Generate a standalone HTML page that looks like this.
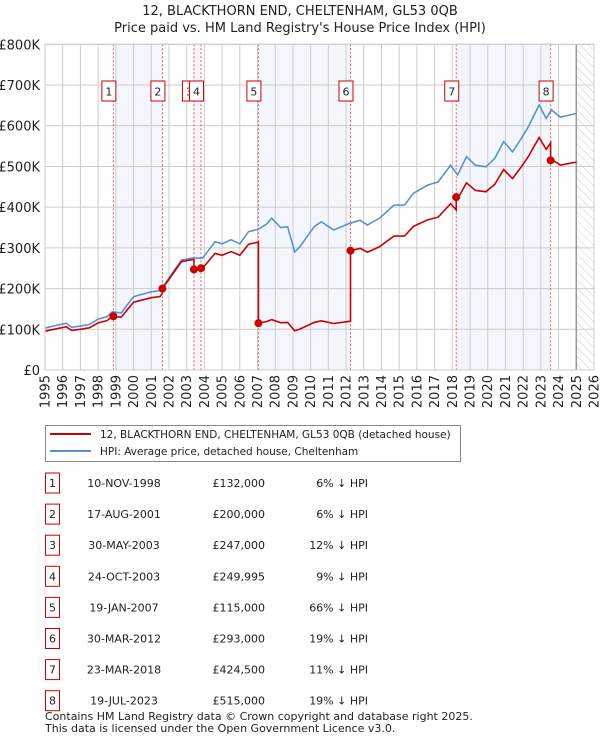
<!DOCTYPE html>
<html><head><meta charset="utf-8">
<style>
body{margin:0;background:#fff;font-family:"DejaVu Sans","Liberation Sans",sans-serif;}
#wrap{position:relative;width:600px;height:740px;overflow:hidden;}
svg text{font-family:"DejaVu Sans","Liberation Sans",sans-serif;}
</style></head>
<body>
<div id="wrap">
<svg id="chart" width="600" height="740"></svg>
</div>
<script>
const hpiYears=[1995,1995.5,1996.2,1996.5,1997,1997.5,1998,1998.5,1998.8,1999.3,2000,2000.5,2001,2001.5,2002,2002.7,2003.3,2003.9,2004.6,2005,2005.5,2006,2006.5,2007,2007.5,2007.8,2008.3,2008.7,2009.1,2009.4,2010.2,2010.6,2011.3,2012.2,2012.8,2013.2,2013.9,2014.7,2015.3,2015.8,2016.6,2017.2,2017.9,2018.3,2018.8,2019.3,2019.9,2020.4,2020.9,2021.4,2021.9,2022.3,2022.9,2023.3,2023.6,2024.1,2024.6,2025.0];
const hpiValues=[103,108,115,105,108,112,125,131,143,140,180,186,192,195,226,270,275,275,315,310,320,310,340,345,358,373,350,352,290,303,352,364,344,360,368,356,373,405,405,434,454,462,503,479,524,503,499,520,561,536,569,598,651,618,639,621,626,630];
const saleDates=[1998.86,2001.63,2003.41,2003.81,2007.05,2012.25,2018.22,2023.55];
const saleLabels=["1","2","3","4","5","6","7","8"];
const salePrices=[132000,200000,247000,249995,115000,293000,424500,515000];
const saleDateText=["10-NOV-1998","17-AUG-2001","30-MAY-2003","24-OCT-2003","19-JAN-2007","30-MAR-2012","23-MAR-2018","19-JUL-2023"];
const salePriceText=["£132,000","£200,000","£247,000","£249,995","£115,000","£293,000","£424,500","£515,000"];
const salePctText=["6% ↓ HPI","6% ↓ HPI","12% ↓ HPI","9% ↓ HPI","66% ↓ HPI","19% ↓ HPI","11% ↓ HPI","19% ↓ HPI"];
const yTicks=[0,100,200,300,400,500,600,700,800];
const yTickLabels=["£0","£100K","£200K","£300K","£400K","£500K","£600K","£700K","£800K"];
const xTicks=[1995,1996,1997,1998,1999,2000,2001,2002,2003,2004,2005,2006,2007,2008,2009,2010,2011,2012,2013,2014,2015,2016,2017,2018,2019,2020,2021,2022,2023,2024,2025,2026];

const L=45,R=594,T=44.3,B=370;
const X=t=>L+(t-1995)/(2026-1995)*(R-L);
const Y=v=>B-v/800*(B-T);
const NS='http://www.w3.org/2000/svg';
const svg=document.getElementById('chart');
function mk(tag,attrs,parent){const e=document.createElementNS(NS,tag);for(const k in attrs)e.setAttribute(k,attrs[k]);(parent||svg).appendChild(e);return e;}
function hpiAt(t){for(let i=0;i<hpiYears.length-1;i++){if(t>=hpiYears[i]&&t<=hpiYears[i+1]){const f=(t-hpiYears[i])/(hpiYears[i+1]-hpiYears[i]);return hpiValues[i]+f*(hpiValues[i+1]-hpiValues[i]);}}return hpiValues[hpiValues.length-1];}

// title
let t1=mk('text',{x:300,y:15,'text-anchor':'middle','font-size':13,fill:'#222'});t1.textContent='12, BLACKTHORN END, CHELTENHAM, GL53 0QB';

let t2=mk('text',{x:300,y:32,'text-anchor':'middle','font-size':13,fill:'#222'});t2.textContent="Price paid vs. HM Land Registry's House Price Index (HPI)";


// shaded bands
for(let i=0;i<saleDates.length;i+=2){
  const b=mk('rect',{x:X(saleDates[i]),y:T,width:X(saleDates[i+1])-X(saleDates[i]),height:B-T,fill:'#eef3fc',opacity:0.7});
  
}
// hatch
const defs=mk('defs',{});
const pat=mk('pattern',{id:'hatch',width:6,height:6,patternUnits:'userSpaceOnUse',patternTransform:'rotate(-45)'},defs);
mk('line',{x1:0,y1:0,x2:0,y2:6,stroke:'#ccc','stroke-width':1},pat);
const hz=mk('rect',{x:X(2025),y:T,width:R-X(2025),height:B-T,fill:'url(#hatch)'});


// grid
yTicks.forEach((v,i)=>{
  const g=mk('line',{x1:L,x2:R,y1:Y(v),y2:Y(v),stroke:'#ccc','stroke-width':1});
  
  const tx=mk('text',{x:40,y:Y(v)+5,'text-anchor':'end','font-size':13,fill:'#222'});tx.textContent=yTickLabels[i];
  
});
xTicks.forEach(t=>{
  const g=mk('line',{x1:X(t),x2:X(t),y1:T,y2:B,stroke:'#ccc','stroke-width':1});
  
  const tx=mk('text',{x:0,y:0,'text-anchor':'end','font-size':13,fill:'#222',transform:`translate(${X(t)+4.5},375) rotate(-90)`});tx.textContent=t;
  
});
const ed=mk('line',{x1:X(2025),x2:X(2025),y1:T,y2:B,stroke:'#999','stroke-width':1.5});


// sale vlines
saleDates.forEach(d=>{
  const l=mk('line',{x1:X(d),x2:X(d),y1:T,y2:B,stroke:'#e55','stroke-width':1,'stroke-dasharray':'2,2'});
  
});

// HPI line
const hp=mk('polyline',{points:hpiYears.map((t,i)=>X(t)+','+Y(hpiValues[i])).join(' '),fill:'none',stroke:'#5b8fd4','stroke-width':1.6});


// red line: price paid indexed by HPI
const ratios=saleDates.map((d,i)=>salePrices[i]/1000/hpiAt(d));
const pts=[];
function ratioAt(t){let r=ratios[0];for(let i=0;i<saleDates.length;i++){if(t>=saleDates[i])r=ratios[i];}return r;}
const allT=hpiYears.slice();
let redPts=[];
let si=0;
hpiYears.forEach((t,i)=>{
  while(si<saleDates.length&&saleDates[si]<=t){
    const d=saleDates[si];const prevR=si===0?ratios[0]:ratios[si-1];
    redPts.push([d,hpiAt(d)*prevR]);redPts.push([d,salePrices[si]/1000]);si++;
  }
  redPts.push([t,hpiValues[i]*ratioAt(t)]);
});
const rl=mk('polyline',{points:redPts.map(p=>X(p[0])+','+Y(p[1])).join(' '),fill:'none',stroke:'#cc0000','stroke-width':1.6});


saleDates.forEach((d,i)=>{
  const c=mk('circle',{cx:X(d),cy:Y(salePrices[i]/1000),r:4,fill:'#cc0000'});
  
  const g=mk('g',{});
  
  mk('rect',{x:X(d)-11.5,y:81,width:14,height:20,fill:'#fff',stroke:'#cc0000','stroke-width':1},g);
  const tx=mk('text',{x:X(d)-4.5,y:95.5,'text-anchor':'middle','font-size':11,fill:'#222'},g);tx.textContent=saleLabels[i];
});
mk('rect',{x:L,y:T,width:R-L,height:B-T,fill:'none',stroke:'#ccc','stroke-width':1});

// legend
const lg=mk('g',{});
mk('rect',{x:45.5,y:425.5,width:415,height:36,fill:'#fff',stroke:'#888','stroke-width':1},lg);
mk('line',{x1:50,x2:91,y1:434,y2:434,stroke:'#cc0000','stroke-width':2},lg);
mk('line',{x1:50,x2:91,y1:451,y2:451,stroke:'#5b8fd4','stroke-width':2},lg);
let le1=mk('text',{x:100,y:438,'font-size':10.5,fill:'#222'},lg);le1.textContent='12, BLACKTHORN END, CHELTENHAM, GL53 0QB (detached house)';

let le2=mk('text',{x:100,y:455,'font-size':10.5,fill:'#222'},lg);le2.textContent='HPI: Average price, detached house, Cheltenham';


// table
saleDates.forEach((d,i)=>{
  const cy=483+i*31.1;
  const row=mk('g',{});
  mk('rect',{x:45.5,y:cy-10,width:14,height:20,fill:'#fff',stroke:'#cc0000','stroke-width':1},row);
  let a=mk('text',{x:52.5,y:cy+4,'text-anchor':'middle','font-size':11,fill:'#222'},row);a.textContent=saleLabels[i];
  let b=mk('text',{x:124,y:cy+4,'text-anchor':'middle','font-size':11,fill:'#222'},row);b.textContent=saleDateText[i];
  let c=mk('text',{x:265,y:cy+4,'text-anchor':'end','font-size':11,fill:'#222'},row);c.textContent=salePriceText[i];
  let e=mk('text',{x:368,y:cy+4,'text-anchor':'end','font-size':11,fill:'#222'},row);e.textContent=salePctText[i];
});
let f1=mk('text',{x:45,y:720,'font-size':11,fill:'#222'});f1.textContent='Contains HM Land Registry data © Crown copyright and database right 2025.';

let f2=mk('text',{x:45,y:732,'font-size':11,fill:'#222'});f2.textContent='This data is licensed under the Open Government Licence v3.0.';

</script>
</body></html>
